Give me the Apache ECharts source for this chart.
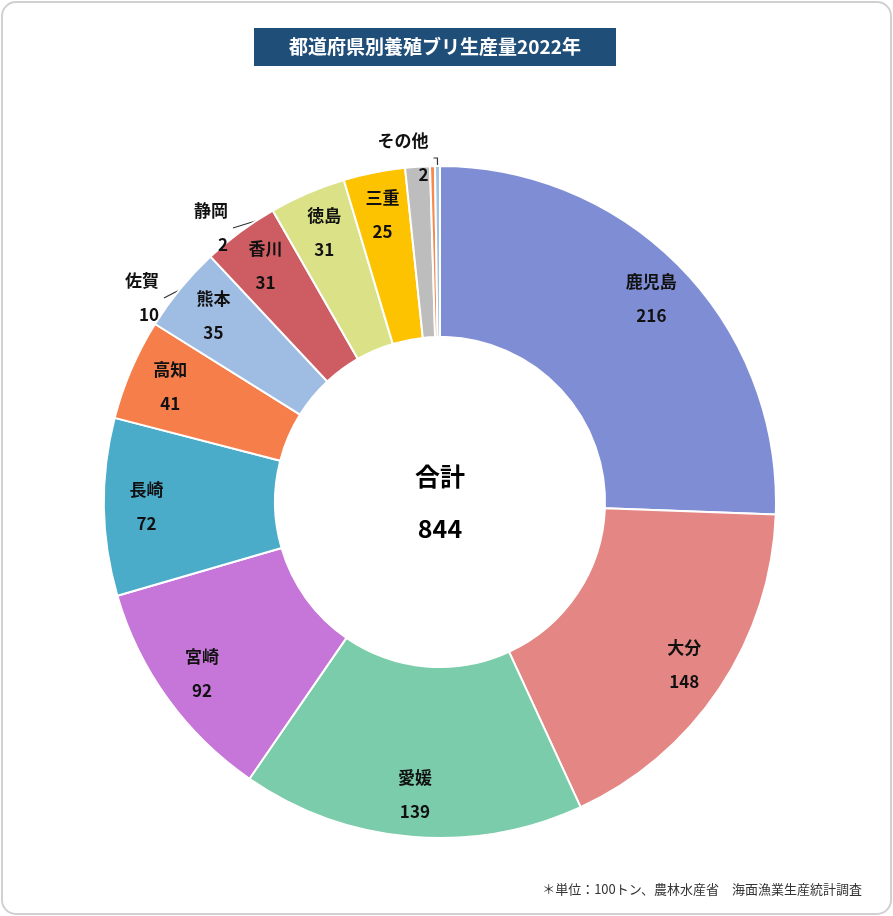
<!DOCTYPE html>
<html><head><meta charset="utf-8">
<script src="https://cdn.jsdelivr.net/npm/echarts@6/dist/echarts.min.js"></script>
<style>html,body{margin:0;padding:0;background:#fff}#c{width:893px;height:916px}</style>
</head><body><div id="c"></div>
<script>
const categories=['鹿児島','大分','愛媛','宮崎','長崎','高知','熊本','香川','徳島','三重','佐賀','静岡','その他'];
const values=[216,148,139,92,72,41,35,31,31,25,10,2,2];
const colors=['#7f8ed4','#e48683','#7accaa','#c576d8','#4aacc8','#f57e4a','#9fbde3','#cd5d62','#dbe186','#fdc200','#bdbdbd','#f58a4c','#9ec3e6'];
const total=values.reduce((a,b)=>a+b,0);
const data=categories.map((n,i)=>({name:n,value:values[i],itemStyle:{color:colors[i]}}));
const font='"Noto Sans CJK JP","Noto Sans",sans-serif';
const chart=echarts.init(document.getElementById('c'));
const smallPos={'佐賀':[415,115],'静岡':[474,115],'その他':[545,145]};
chart.setOption({
  animation:false,
  graphic:[
    {type:'rect',shape:{x:2,y:2,width:889,height:912,r:14},style:{fill:'#fff',stroke:'#d0d0d0',lineWidth:2},z:-10},
    {type:'rect',shape:{x:254,y:28,width:362,height:38},style:{fill:'#1f4e79'}},
    {type:'text',x:435,y:47,style:{text:'都道府県別養殖ブリ生産量2022年',fill:'#fff',font:'bold 19px '+font,align:'center',verticalAlign:'middle'}},
    {type:'text',x:440,y:502,style:{text:'合計\n'+total,fill:'#000',font:'bold 25px '+font,align:'center',verticalAlign:'middle',lineHeight:52}},
    {type:'text',x:862,y:889,style:{text:'＊単位：100トン、農林水産省　海面漁業生産統計調査',fill:'#333',font:'13px '+font,align:'right',verticalAlign:'middle'}}
  ],
  series:[
    {type:'pie',center:[440,502],radius:[165,336],startAngle:90,clockwise:true,
     data:data,label:{show:false},labelLine:{show:false},
     itemStyle:{borderColor:'#fff',borderWidth:2},silent:true},
    {type:'pie',center:[440,502],radius:[245,336],startAngle:90,clockwise:true,silent:true,
     data:data.map((d,i)=>({name:d.name,value:d.value,itemStyle:{color:'rgba(0,0,0,0)'},
       label:i<10?{show:true,position:'inside'}:{show:false}})),
     label:{formatter:'{b}\n{c}',color:'#111',fontWeight:'bold',fontSize:17,fontFamily:font,lineHeight:34},
     labelLine:{show:false}},
    {type:'pie',center:[440,502],radius:[165,336],startAngle:90,clockwise:true,silent:true,
     data:data.map((d,i)=>({name:d.name,value:d.value,itemStyle:{color:'rgba(0,0,0,0)'},
       label:{show:i>=10},labelLine:{show:i>=10}})),
     label:{position:'outside',formatter:'{b}\n{c}',color:'#111',fontWeight:'bold',fontSize:17,fontFamily:font,lineHeight:34,align:'center'},
     labelLine:{show:true,lineStyle:{color:'#333',width:1.2},length:8,length2:4},
     labelLayout:function(p){const s=smallPos[p.name];if(!s)return {};return {x:s[0],y:s[1],align:'center',verticalAlign:'middle'};}
    }
  ]
});
</script></body></html>
